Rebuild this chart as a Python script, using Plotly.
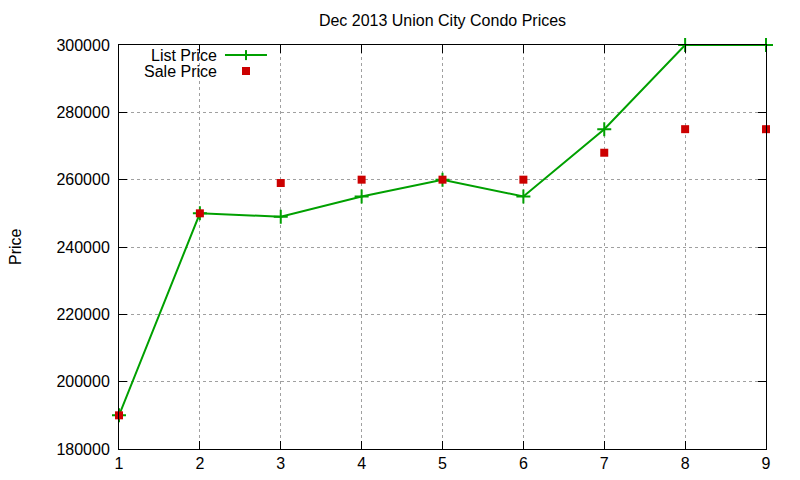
import plotly.graph_objects as go

# data
days = [1, 2, 3, 4, 5, 6, 7, 8, 9]
list_price = [190000, 250000, 249000, 255000, 260000, 255000, 275000, 300000, 300000]
sale_price = [190000, 250000, 259000, 260000, 260000, 260000, 268000, 275000, 275000]
y_ticks = [180000, 200000, 220000, 240000, 260000, 280000, 300000]

green = "#00a000"
red = "#cc0000"
font = "Liberation Sans, Arial, sans-serif"

fig = go.Figure()
fig.add_trace(go.Scatter(
    x=days, y=list_price, mode="lines+markers", name="List Price",
    line=dict(color=green, width=2),
    marker=dict(symbol="cross-thin", size=10, line=dict(color=green, width=2)),
    cliponaxis=False,
))
fig.add_trace(go.Scatter(
    x=days, y=sale_price, mode="markers", name="Sale Price",
    marker=dict(symbol="square", size=8, color=red),
    cliponaxis=False,
))

axis_style = dict(
    showline=True, linecolor="black", linewidth=1, mirror="ticks",
    ticks="inside", ticklen=8, tickcolor="black", automargin=False,
    showgrid=True, gridcolor="#a0a0a0", griddash="dot", gridwidth=1,
    zeroline=False, tickfont=dict(size=16, color="black"),
)

fig.update_xaxes(range=[1, 9], tickvals=days, **axis_style)
fig.update_yaxes(range=[180000, 300000], tickvals=y_ticks, ticklabelstandoff=5,
                 tickformat="d", **axis_style)

# y title as an annotation, kept just inside the left edge of the figure
fig.add_annotation(x=-0.1607, y=0.5, xref="paper", yref="paper", text="Price", textangle=-90,
                   showarrow=False, xanchor="center", yanchor="middle", borderpad=0,
                   font=dict(size=16))

# gnuplot style key: text on the left, sample on the right
fig.add_annotation(x=0.1545, y=0.975, xref="paper", yref="paper", text="List Price", height=16,
                   showarrow=False, xanchor="right", yanchor="middle", font=dict(size=16))
fig.add_annotation(x=0.1545, y=0.9356, xref="paper", yref="paper", text="Sale Price", height=16,
                   showarrow=False, xanchor="right", yanchor="middle", font=dict(size=16))
fig.add_shape(type="line", xref="paper", yref="paper", x0=0.1638, x1=0.2287, y0=0.975, y1=0.975,
              line=dict(color=green, width=2))
fig.add_shape(type="line", xref="paper", yref="paper", x0=0.1963, x1=0.1963, y0=0.9626, y1=0.9874,
              line=dict(color=green, width=2))
fig.add_shape(type="rect", xref="paper", yref="paper", x0=0.1901, x1=0.2025, y0=0.9257, y1=0.9455,
              line=dict(width=0), fillcolor=red)

# page body adds an 8px offset, so the figure is a little smaller than the window
fig.update_layout(
    width=792, height=472,
    title=dict(text="Dec 2013 Union City Condo Prices", xref="paper", x=0.5, xanchor="center",
               y=0.9746, yanchor="middle", font=dict(size=16, color="black")),
    font=dict(family=font, color="black"),
    showlegend=False,
    plot_bgcolor="white", paper_bgcolor="white",
    margin=dict(l=111, r=34, t=37, b=31),
)

fig.write_html("out.html")
